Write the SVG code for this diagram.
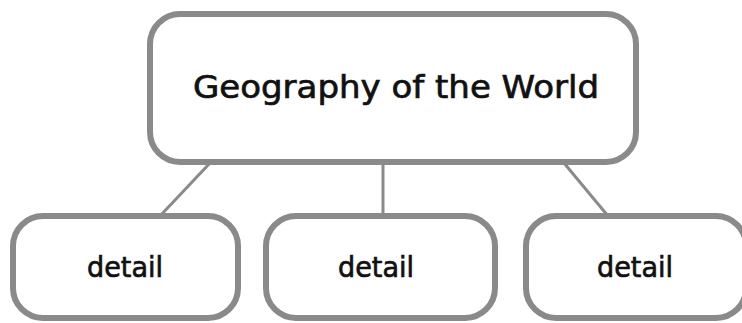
<svg xmlns="http://www.w3.org/2000/svg" width="742" height="323" viewBox="0 0 742 323">
<style>
.box{fill:#fff;stroke:#8a8a8a;stroke-width:6}
.con{stroke:#8a8a8a;stroke-width:3;fill:none}
.t{font-family:"DejaVu Sans","Liberation Sans",sans-serif;fill:#111;stroke:#111;stroke-width:0.7}
</style>
<rect width="742" height="323" fill="#fff"/>
<g id="connectors">
<line class="con" x1="210" y1="163" x2="160" y2="216"/>
<line class="con" x1="383" y1="163" x2="383" y2="216"/>
<line class="con" x1="564" y1="163" x2="608" y2="216"/>
</g>
<g id="root">
<rect class="box" x="150" y="14" width="486" height="148" rx="30" ry="30"/>
<text class="t" x="193" y="98" font-size="32" textLength="406" lengthAdjust="spacingAndGlyphs">Geography of the World</text>
</g>
<g id="detail1">
<rect class="box" x="13" y="216" width="225" height="102" rx="30" ry="30"/>
<text class="t" x="125" y="277" font-size="29" text-anchor="middle" textLength="76" lengthAdjust="spacingAndGlyphs">detail</text>
</g>
<g id="detail2">
<rect class="box" x="266" y="216" width="229" height="102" rx="30" ry="30"/>
<text class="t" x="376" y="277" font-size="29" text-anchor="middle" textLength="76" lengthAdjust="spacingAndGlyphs">detail</text>
</g>
<g id="detail3">
<rect class="box" x="526" y="216" width="220" height="102" rx="30" ry="30"/>
<text class="t" x="635" y="277" font-size="29" text-anchor="middle" textLength="76" lengthAdjust="spacingAndGlyphs">detail</text>
</g>
</svg>
